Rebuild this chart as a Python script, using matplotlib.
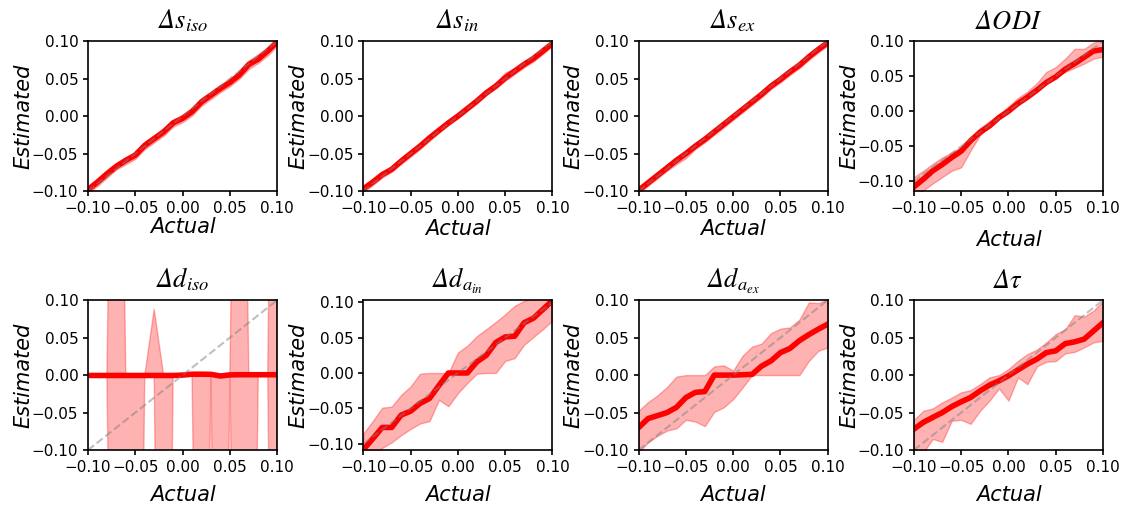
import numpy as np
import matplotlib.pyplot as plt

# italic everywhere in the titles, including the capital Delta
plt.rcParams["mathtext.fontset"] = "custom"
plt.rcParams["mathtext.rm"] = "STIXGeneral:italic"
plt.rcParams["mathtext.it"] = "STIXGeneral:italic"

actual = [-0.10, -0.09, -0.08, -0.07, -0.06, -0.05, -0.04, -0.03, -0.02, -0.01, 0.00,
          0.01, 0.02, 0.03, 0.04, 0.05, 0.06, 0.07, 0.08, 0.09, 0.10]

titles = [r"$\Delta s_{iso}$", r"$\Delta s_{in}$", r"$\Delta s_{ex}$",
          r"$\Delta ODI$", r"$\Delta d_{iso}$", r"$\Delta d_{a_{in}}$",
          r"$\Delta d_{a_{ex}}$", r"$\Delta \tau$"]

# mean estimate and band (upper / lower) per parameter
s_iso_mean = [-0.098, -0.088, -0.077, -0.067, -0.059, -0.052, -0.039, -0.030, -0.021, -0.009, -0.003,
              0.006, 0.019, 0.028, 0.037, 0.045, 0.055, 0.069, 0.076, 0.087, 0.099]
s_iso_up = [-0.094, -0.083, -0.072, -0.062, -0.055, -0.047, -0.034, -0.025, -0.016, -0.005, 0.002,
            0.011, 0.024, 0.032, 0.041, 0.049, 0.059, 0.074, 0.083, 0.091, 0.103]
s_iso_lo = [-0.103, -0.093, -0.082, -0.071, -0.064, -0.057, -0.044, -0.035, -0.026, -0.014, -0.008,
            0.001, 0.014, 0.023, 0.032, 0.040, 0.050, 0.063, 0.071, 0.081, 0.094]

s_in_mean = [-0.097, -0.088, -0.078, -0.071, -0.060, -0.050, -0.040, -0.029, -0.019, -0.009, 0.000,
             0.010, 0.020, 0.031, 0.040, 0.051, 0.060, 0.069, 0.077, 0.087, 0.097]
s_in_up = [-0.094, -0.085, -0.075, -0.067, -0.056, -0.046, -0.037, -0.026, -0.016, -0.006, 0.003,
           0.013, 0.023, 0.034, 0.044, 0.058, 0.064, 0.073, 0.081, 0.091, 0.100]
s_in_lo = [-0.101, -0.092, -0.082, -0.074, -0.064, -0.054, -0.044, -0.033, -0.022, -0.012, -0.003,
           0.007, 0.017, 0.028, 0.037, 0.047, 0.056, 0.065, 0.073, 0.083, 0.094]

s_ex_mean = [-0.099, -0.089, -0.079, -0.069, -0.059, -0.050, -0.040, -0.031, -0.021, -0.011, -0.001,
             0.009, 0.019, 0.029, 0.040, 0.049, 0.059, 0.068, 0.079, 0.089, 0.098]
s_ex_up = [-0.095, -0.085, -0.075, -0.065, -0.055, -0.046, -0.036, -0.027, -0.017, -0.007, 0.003,
           0.013, 0.023, 0.033, 0.044, 0.053, 0.063, 0.072, 0.083, 0.093, 0.102]
s_ex_lo = [-0.103, -0.093, -0.083, -0.073, -0.064, -0.056, -0.044, -0.035, -0.025, -0.015, -0.005,
           0.005, 0.015, 0.025, 0.036, 0.045, 0.055, 0.064, 0.075, 0.085, 0.094]

odi_mean = [-0.108, -0.097, -0.085, -0.076, -0.066, -0.057, -0.042, -0.030, -0.021, -0.009, 0.000,
            0.011, 0.020, 0.030, 0.041, 0.049, 0.060, 0.068, 0.077, 0.086, 0.088]
odi_up = [-0.094, -0.085, -0.075, -0.066, -0.059, -0.051, -0.038, -0.024, -0.014, -0.005, 0.007,
          0.019, 0.028, 0.040, 0.056, 0.063, 0.075, 0.089, 0.089, 0.098, 0.102]
odi_lo = [-0.120, -0.113, -0.103, -0.094, -0.085, -0.080, -0.056, -0.034, -0.021, -0.009, -0.001,
          0.009, 0.019, 0.031, 0.040, 0.049, 0.056, 0.062, 0.068, 0.075, 0.078]

d_iso_mean = [-0.0005, -0.0005, -0.0005, -0.0005, -0.0005, -0.0005, -0.0005, -0.0005, -0.0005, -0.0005, 0.0,
              0.0012, 0.0012, 0.0010, -0.0012, 0.0003, 0.0005, 0.0005, 0.0005, 0.0005, 0.0005]
d_iso_up = [-0.0005, -0.0005, -0.0005, 0.9, -0.0005, -0.0005, -0.0005, 0.088, -0.0005, -0.0005, 0.0,
            0.0012, 0.0012, 0.0010, -0.0012, 0.0003, 0.9, 0.0005, 0.0005, 0.0005, 1.1]
d_iso_lo = [-0.0005, -0.0005, -0.0005, -1.0, -0.9, -1.1, -0.0005, -0.0005, -1.2, -0.0005, 0.0,
            0.0012, -1.0, 0.0010, -1.1, 0.0003, -0.9, -1.0, 0.0005, 0.0005, -1.2]

d_ain_mean = [-0.1085, -0.093, -0.077, -0.077, -0.0595, -0.054, -0.043, -0.036, -0.0176, 0.000, 0.000,
              0.000, 0.0157, 0.025, 0.043, 0.051, 0.052, 0.071, 0.0776, 0.090, 0.1025]
d_ain_up = [-0.0857, -0.068, -0.049, -0.0476, -0.031, -0.019, -0.001, 0.000, 0.000, 0.000, 0.029,
            0.0385, 0.052, 0.062, 0.072, 0.083, 0.095, 0.102, 0.106, 0.110, 0.114]
d_ain_lo = [-0.125, -0.115, -0.106, -0.098, -0.088, -0.079, -0.0714, -0.068, -0.038, -0.047, -0.0286,
            -0.014, -0.001, 0.000, 0.000, 0.017, 0.021, 0.040, 0.051, 0.062, 0.074]

d_aex_mean = [-0.070, -0.058, -0.054, -0.050, -0.043, -0.030, -0.023, -0.022, 0.000, 0.000, 0.000,
              0.0005, 0.001, 0.012, 0.019, 0.030, 0.0356, 0.046, 0.054, 0.0613, 0.068]
d_aex_up = [-0.0476, -0.036, -0.027, -0.016, -0.002, 0.000, 0.000, 0.000, 0.0116, 0.013, 0.006,
            0.026, 0.038, 0.042, 0.056, 0.062, 0.0636, 0.074, 0.097, 0.096, 0.101]
d_aex_lo = [-0.103, -0.0898, -0.081, -0.074, -0.071, -0.0596, -0.062, -0.068, -0.049, -0.043, -0.032,
            -0.0164, 0.000, 0.000, 0.000, 0.000, 0.000, 0.000, 0.019, 0.0324, 0.0369]

tau_mean = [-0.072, -0.063, -0.0564, -0.050, -0.042, -0.0356, -0.0298, -0.021, -0.0133, -0.0076, -0.001,
            0.007, 0.0147, 0.0213, 0.030, 0.0324, 0.042, 0.0444, 0.048, 0.059, 0.070]
tau_up = [-0.0596, -0.0476, -0.0444, -0.0364, -0.030, -0.023, -0.020, -0.012, -0.003, 0.000, 0.008,
          0.019, 0.028, 0.034, 0.0436, 0.0547, 0.061, 0.080, 0.078, 0.086, 0.099]
tau_lo = [-0.118, -0.103, -0.0853, -0.0889, -0.061, -0.0596, -0.065, -0.0476, -0.034, -0.0178, -0.034,
          -0.003, -0.012, 0.0116, 0.0178, 0.0187, 0.029, 0.031, 0.037, 0.0436, 0.0458]

means = [s_iso_mean, s_in_mean, s_ex_mean, odi_mean, d_iso_mean, d_ain_mean, d_aex_mean, tau_mean]
uppers = [s_iso_up, s_in_up, s_ex_up, odi_up, d_iso_up, d_ain_up, d_aex_up, tau_up]
lowers = [s_iso_lo, s_in_lo, s_ex_lo, odi_lo, d_iso_lo, d_ain_lo, d_aex_lo, tau_lo]
ylims = [(-0.1, 0.1), (-0.1, 0.1), (-0.1, 0.1), (-0.114, 0.1),
         (-0.1, 0.1), (-0.109, 0.103), (-0.1, 0.1), (-0.1, 0.1)]
xpads = [1, 2, 2, 10, 7, 7, 7, 7]

ticks = [-0.10, -0.05, 0.00, 0.05, 0.10]

fig, axes = plt.subplots(nrows=2, ncols=4, figsize=(11.21, 5.08), dpi=100)
fig.subplots_adjust(left=0.0785, right=0.984, top=0.919, bottom=0.114, wspace=0.455, hspace=0.727)

for i, ax in enumerate(axes.flat):
    x = np.array(actual)
    ax.fill_between(x, lowers[i], uppers[i], color="red", alpha=0.3)
    ax.plot(x, means[i], color="red", lw=4)
    ax.plot(x, x, color="gray", ls="--", lw=1.5, alpha=0.5)
    ax.set_xlim(-0.1, 0.1)
    ax.set_ylim(*ylims[i])
    ax.set_xticks(ticks)
    ax.set_yticks(ticks)
    ax.tick_params(labelsize=11, width=1.2)
    for sp in ax.spines.values():
        sp.set_linewidth(1.2)
    ax.set_title(titles[i], fontsize=19, pad=9)
    ax.set_xlabel("Actual", fontsize=15, style="italic", labelpad=xpads[i])
    ax.set_ylabel("Estimated", fontsize=15, style="italic", labelpad=-1)

fig.savefig("out.png")
